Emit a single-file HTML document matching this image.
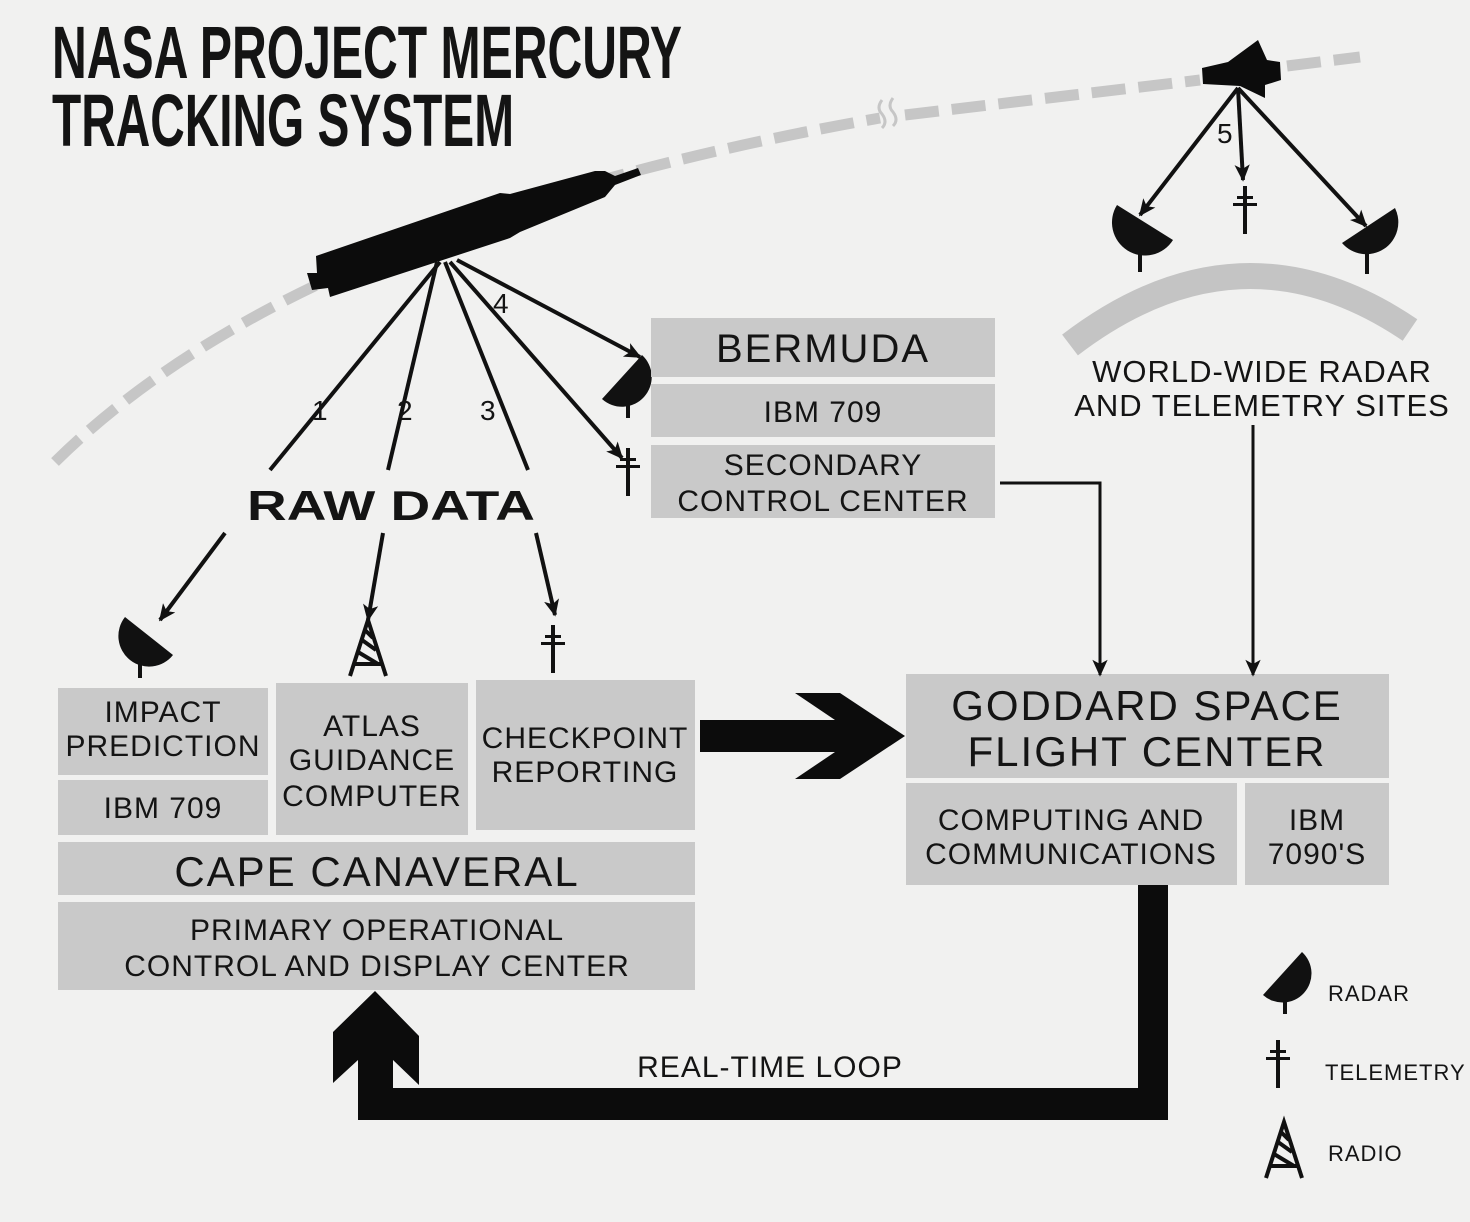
<!DOCTYPE html>
<html><head><meta charset="utf-8"><style>
html,body{margin:0;padding:0;background:#f1f1f0;}
svg{display:block}
text{font-family:"Liberation Sans",sans-serif;fill:#141414}
</style></head><body>
<svg width="1470" height="1222" viewBox="0 0 1470 1222" xmlns="http://www.w3.org/2000/svg">
<defs>
<marker id="ah" viewBox="0 0 10 10" refX="9" refY="5" markerWidth="17" markerHeight="17" orient="auto" markerUnits="userSpaceOnUse">
<path d="M0,0.5 L10,5 L0,9.5 L2.5,5 Z" fill="#111"/></marker>
<g id="tele"><rect x="-2" y="0" width="4" height="48" fill="#111"/><rect x="-8" y="10" width="16" height="3" fill="#111"/><rect x="-12" y="17" width="24" height="3" fill="#111"/></g>
<g id="radio" fill="none" stroke="#111" stroke-width="4"><path d="M-18,56 L0,0 L18,56 M-14,44 L14,44 M-10,32 L10,44 M-6,20 L8,30 M-3,10 L5,18"/></g>
</defs>
<text x="52" y="78" font-size="74" font-weight="bold" textLength="630" lengthAdjust="spacingAndGlyphs">NASA PROJECT MERCURY</text>
<text x="52" y="146" font-size="74" font-weight="bold" textLength="462" lengthAdjust="spacingAndGlyphs">TRACKING SYSTEM</text>
<!-- orbit -->
<path d="M55,462 Q300,220 880,118" fill="none" stroke="#c6c6c6" stroke-width="11" stroke-dasharray="34,13"/>
<path d="M882,100 q-6,8 0,14 q6,8 0,14 M893,98 q-6,8 0,14 q6,8 0,14" fill="none" stroke="#c6c6c6" stroke-width="3"/>
<path d="M905,115 L1200,80 M1287,66 L1360,57" fill="none" stroke="#c6c6c6" stroke-width="11" stroke-dasharray="34,13"/>
<!-- rocket -->
<polygon fill="#0c0c0c" points="317,273 316,256 500,193 510,194 595,171 605,171 615,176 638,168 641,175 615,185 605,197 520,232 510,238 330,297 328,288 312,290 307,273"/>
<!-- rays -->
<g stroke="#111" stroke-width="4" fill="none">
<line x1="440" y1="262" x2="270" y2="470"/><line x1="225" y1="533" x2="160" y2="620" marker-end="url(#ah)"/>
<line x1="437" y1="262" x2="388" y2="470"/><line x1="383" y1="533" x2="368" y2="620" marker-end="url(#ah)"/>
<line x1="445" y1="262" x2="528" y2="470"/><line x1="536" y1="533" x2="555" y2="615" marker-end="url(#ah)"/>
<line x1="450" y1="262" x2="622" y2="458" marker-end="url(#ah)"/>
<line x1="457" y1="260" x2="640" y2="357" marker-end="url(#ah)"/>
<line x1="1238" y1="88" x2="1140" y2="215" marker-end="url(#ah)"/>
<line x1="1238" y1="88" x2="1243" y2="180" marker-end="url(#ah)"/>
<line x1="1238" y1="88" x2="1366" y2="226" marker-end="url(#ah)"/>
</g>
<g font-size="28"><text x="312" y="420">1</text><text x="397" y="420">2</text><text x="480" y="420">3</text><text x="493" y="313">4</text><text x="1217" y="143">5</text></g>
<text x="247" y="520" font-size="42" font-weight="bold" textLength="288" lengthAdjust="spacingAndGlyphs">RAW DATA</text>
<!-- radars -->
<g fill="#111">
<path d="M125,617 A30.6,30.6 0 0 0 173,655 Z"/><rect x="138" y="648" width="4" height="30"/>
<path d="M642,355 A29.7,29.7 0 0 1 602,399 Z"/><rect x="626" y="388" width="4" height="30"/>
<path d="M1117,205 A33,33 0 0 0 1173,240 Z"/><rect x="1138" y="232" width="4" height="40"/>
<path d="M1395,208 A32,32 0 0 1 1342,243 Z"/><rect x="1365" y="238" width="4" height="36"/>
<path d="M1302,952 A29,29 0 0 1 1263,995 Z"/><rect x="1283" y="984" width="4" height="30"/>
</g>
<use href="#radio" x="368" y="620"/>
<use href="#tele" x="553" y="625"/>
<use href="#tele" x="628" y="448"/>
<!-- satellite -->
<polygon fill="#0c0c0c" points="1202,68 1228,62 1258,40 1267,60 1280,62 1281,80 1265,85 1265,98 1240,86 1203,84"/>
<!-- earth -->
<path d="M1070,345 Q1240,215 1410,330" fill="none" stroke="#c4c4c4" stroke-width="26"/>
<use href="#tele" x="1245" y="186"/>
<text x="1262" y="382" font-size="31" text-anchor="middle" letter-spacing="1">WORLD-WIDE RADAR</text>
<text x="1262" y="416" font-size="31" text-anchor="middle" letter-spacing="1">AND TELEMETRY SITES</text>
<!-- boxes -->
<g fill="#c9c9c9">
<rect x="58" y="688" width="210" height="87"/><rect x="58" y="780" width="210" height="55"/>
<rect x="276" y="683" width="192" height="152"/><rect x="476" y="680" width="219" height="150"/>
<rect x="58" y="842" width="637" height="53"/><rect x="58" y="902" width="637" height="88"/>
<rect x="651" y="318" width="344" height="59"/><rect x="651" y="384" width="344" height="53"/><rect x="651" y="445" width="344" height="73"/>
<rect x="906" y="674" width="483" height="104"/><rect x="906" y="783" width="331" height="102"/><rect x="1245" y="783" width="144" height="102"/>
</g>
<g font-size="30" text-anchor="middle" letter-spacing="1">
<text x="163" y="722">IMPACT</text><text x="163" y="756">PREDICTION</text>
<text x="163" y="818">IBM 709</text>
<text x="372" y="736">ATLAS</text><text x="372" y="770">GUIDANCE</text><text x="372" y="806">COMPUTER</text>
<text x="585" y="748">CHECKPOINT</text><text x="585" y="782">REPORTING</text>
<text x="377" y="886" font-size="42" letter-spacing="2">CAPE CANAVERAL</text>
<text x="377" y="940">PRIMARY OPERATIONAL</text><text x="377" y="976">CONTROL AND DISPLAY CENTER</text>
<text x="823" y="362" font-size="40" letter-spacing="2">BERMUDA</text>
<text x="823" y="422">IBM 709</text>
<text x="823" y="475">SECONDARY</text><text x="823" y="511">CONTROL CENTER</text>
<text x="1147" y="720" font-size="42" letter-spacing="2">GODDARD SPACE</text><text x="1147" y="766" font-size="42" letter-spacing="2">FLIGHT CENTER</text>
<text x="1071" y="830">COMPUTING AND</text><text x="1071" y="864">COMMUNICATIONS</text>
<text x="1317" y="830">IBM</text><text x="1317" y="864">7090'S</text>
</g>
<!-- thin connectors -->
<g stroke="#111" stroke-width="3" fill="none">
<polyline points="1000,483 1100,483 1100,675" marker-end="url(#ah)"/>
<line x1="1253" y1="425" x2="1253" y2="675" marker-end="url(#ah)"/>
</g>
<!-- big arrow -->
<polygon fill="#0c0c0c" points="700,720 835,720 795,693 840,693 905,736 840,779 795,779 835,752 700,752"/>
<!-- loop -->
<polygon fill="#0c0c0c" points="375,991 419,1036 419,1085 393,1060 393,1088 1138,1088 1138,885 1168,885 1168,1120 358,1120 358,1060 333,1083 333,1032"/>
<text x="770" y="1077" font-size="30" text-anchor="middle" letter-spacing="1">REAL-TIME LOOP</text>
<!-- legend -->
<text x="1328" y="1001" font-size="22" letter-spacing="1">RADAR</text>
<use href="#tele" x="1278" y="1040"/>
<text x="1325" y="1080" font-size="22" letter-spacing="1">TELEMETRY</text>
<use href="#radio" x="1284" y="1122"/>
<text x="1328" y="1161" font-size="22" letter-spacing="1">RADIO</text>
</svg>
</body></html>
